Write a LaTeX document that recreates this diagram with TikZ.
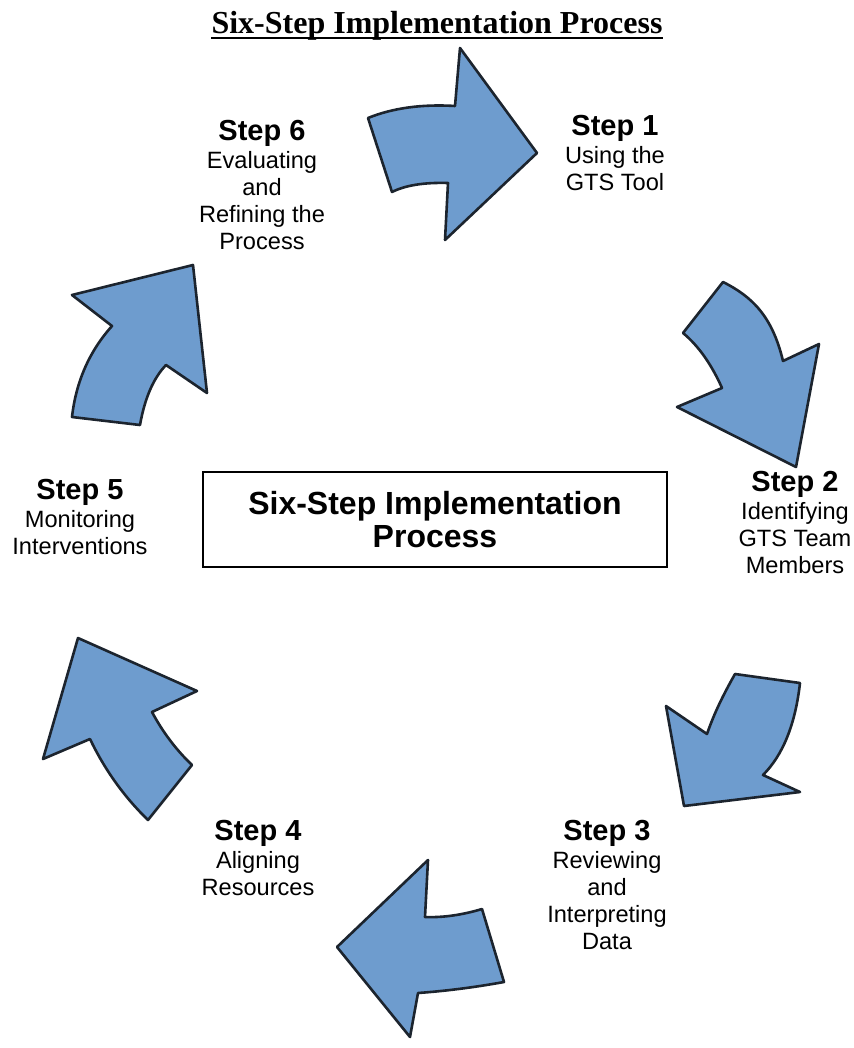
\documentclass[tikz,border=0pt]{standalone}
\usepackage{fontspec}
\setmainfont{Liberation Sans}
\newfontfamily\titlefont{Liberation Serif}
\definecolor{arrowblue}{RGB}{110,156,206}
\definecolor{arrowline}{RGB}{28,36,46}
\newcommand\stephead[1]{{\fontsize{14.5}{15}\selectfont\bfseries Step #1}\\[0.4pt]}
\begin{document}
\begin{tikzpicture}
[x=0.5pt,y=-0.5pt,
 steparrow/.style={fill=arrowblue,draw=arrowline,line width=1.3pt,line join=round},
 steptext/.style={anchor=north,align=center,inner sep=0pt,font=\fontsize{11.8}{13.5}\selectfont}]
\useasboundingbox (0,0) rectangle (854,1048);

\node[inner sep=0pt,anchor=base,font=\titlefont\bfseries\fontsize{16}{18}\selectfont] (title) at (437,34) {Six-Step Implementation Process};
\draw[line width=1pt] ([yshift=-2pt]title.base west) -- ([yshift=-2pt]title.base east);

\node[draw,line width=0.8pt,minimum width=232pt,minimum height=47.5pt,align=center,
  font=\bfseries\fontsize{16}{16.5}\selectfont] (box) at (435,519.5) {Six-Step Implementation\\Process};

% arrows, clockwise from the top
\draw[steparrow] (460,48) -- (537,153) -- (445,240) -- (448,183)
  .. controls (424,182.3) and (405.3,185.3) .. (392,192)
  -- (368,118) .. controls (392.7,108) and (421.7,104) .. (455,106) -- cycle;
\draw[steparrow] (723,282) .. controls (752.3,296.7) and (772.3,316.3) .. (783,361)
  -- (819,344) -- (796,467) -- (677,407) -- (722,388)
  .. controls (711.3,364) and (698.3,345.7) .. (683,333) -- cycle;
\draw[steparrow] (735,674) -- (800,683) .. controls (795.3,724.3) and (783,755) .. (763,775)
  -- (800,792) -- (684,806) -- (666,706) -- (707,734)
  .. controls (714.3,712.7) and (723.7,694) .. (735,674) -- cycle;
\draw[steparrow] (428,860) -- (425,917) .. controls (443,917.7) and (462,915) .. (482,909)
  -- (504,982) .. controls (474.7,987.3) and (446,991) .. (418,993)
  -- (410,1037) -- (337,947) -- cycle;
\draw[steparrow] (78,638) -- (197,691) -- (152,712) .. controls (162.7,732) and (176,749.7) .. (192,765)
  -- (148,820) .. controls (124,796.7) and (104.7,769.7) .. (90,739) -- (43,759) -- cycle;
\draw[steparrow] (72,295) -- (193,265) -- (207,393) -- (166,365)
  .. controls (153.3,378.3) and (144.7,398.3) .. (140,425)
  -- (72,417) .. controls (76,381.7) and (89.3,351.3) .. (112,326) -- cycle;

\node[steptext] (s1) at (615,115) {\stephead{1}Using the\\GTS Tool};
\node[steptext] (s2) at (795,471) {\stephead{2}Identifying\\GTS Team\\Members};
\node[steptext] (s3) at (607,820) {\stephead{3}Reviewing\\and\\Interpreting\\Data};
\node[steptext] (s4) at (258,820) {\stephead{4}Aligning\\Resources};
\node[steptext] (s5) at (80,479) {\stephead{5}Monitoring\\Interventions};
\node[steptext] (s6) at (262,120) {\stephead{6}Evaluating\\and\\Refining the\\Process};
\end{tikzpicture}
\end{document}
